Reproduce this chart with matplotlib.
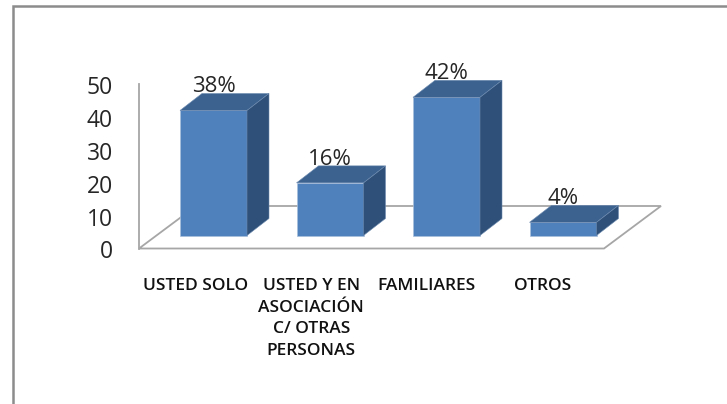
import matplotlib
matplotlib.use("Agg")
import matplotlib.pyplot as plt
from matplotlib.patches import Polygon

W, H = 727, 404

categories = ["USTED SOLO", "USTED Y EN\nASOCIACIÓN\nC/ OTRAS\nPERSONAS", "FAMILIARES", "OTROS"]
values = [38, 16, 42, 4]
bar_labels = ["38%", "16%", "42%", "4%"]
y_ticks = [0, 10, 20, 30, 40, 50]

FRONT = "#4f81bd"
TOP = "#3c6290"
SIDE = "#2f5078"
AXIS = "#a6a6a6"
FONT = "Open Sans"

# chart scale, pixels per category and per value unit
PX_X = 116.5
PX_Y = 3.29
X0 = 213.5   # centre of first bar
Y0 = 235.5   # bar foot
BAR_W = 67 / PX_X
DX = 22 / PX_X
DY = 17 / PX_Y

fig = plt.figure(figsize=(W / 100, H / 100), dpi=100, facecolor="white")
ax = fig.add_axes([0, 0, 1, 1])
ax.set_xlim(-X0 / PX_X, (W - X0) / PX_X)
ax.set_ylim(-(H - Y0) / PX_Y, Y0 / PX_Y)
ax.axis("off")


def px(x, y):
    # pixel position of the picture -> data position
    return (x - X0) / PX_X, (Y0 - y) / PX_Y


# --------------------------------------------------
# Outer frame (left and top only, the crop cuts the rest)
# --------------------------------------------------
frame = [px(12.5, 404), px(12.5, 6), px(727, 6)]
ax.plot(*zip(*frame), color="#8c8c8c", lw=1.8, solid_joinstyle="miter", clip_on=False)

# --------------------------------------------------
# Floor and left axis
# --------------------------------------------------
floor = [px(139, 248.5), px(604, 248.5), px(661, 206), px(196, 206)]
ax.add_patch(Polygon(floor, closed=True, fc="white", ec=AXIS, lw=1.3, zorder=1))
ax.plot(*zip(px(138.5, 84), px(138.5, 248.5)), color=AXIS, lw=1.3, zorder=1)

# --------------------------------------------------
# Bars
# --------------------------------------------------
for i, (v, lab) in enumerate(zip(values, bar_labels)):
    left, right = i - BAR_W / 2, i + BAR_W / 2
    ax.add_patch(Polygon([(left, 0), (right, 0), (right, v), (left, v)], fc=FRONT, ec="#a9bfdc", lw=0.5, zorder=3))
    ax.add_patch(Polygon([(left, v), (right, v), (right + DX, v + DY), (left + DX, v + DY)], fc=TOP, ec="#6d8bb0", lw=0.4, zorder=3))
    ax.add_patch(Polygon([(right, 0), (right + DX, DY), (right + DX, v + DY), (right, v)], fc=SIDE, ec="#6d8bb0", lw=0.4, zorder=3))
    ax.text(i, v + DY + 0.3, lab, ha="center", va="baseline", fontsize=16, family=FONT, color="#262626", zorder=4)

# --------------------------------------------------
# Tick labels
# --------------------------------------------------
for t in y_ticks:
    x, y = px(113, 252.5 - t * 3.28)
    ax.text(x, y, str(t), ha="right", va="center", fontsize=16.5, family=FONT, color="#262626")

for i, c in enumerate(categories):
    x, y = px(195.5 + 115.7 * i, 278)
    ax.text(x, y, c, ha="center", va="top", fontsize=12.5, family=FONT, fontweight="semibold", color="#111111", linespacing=1.47)

fig.savefig("out.png", dpi=100, facecolor="white")
